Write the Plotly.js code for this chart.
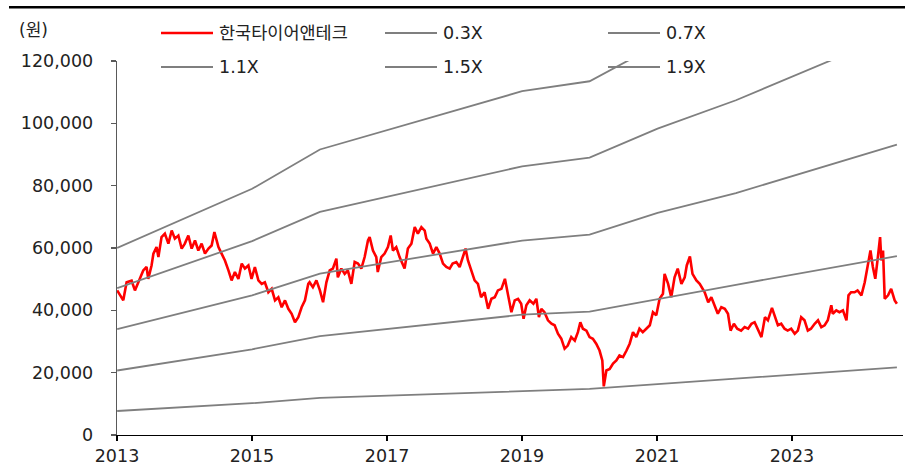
<!DOCTYPE html>
<html>
<head>
<meta charset="utf-8">
<script src="https://cdn.plot.ly/plotly-3.0.1.min.js"></script>
<style>html,body{margin:0;padding:0;background:#fff;}#chart{width:913px;height:470px;}</style>
</head>
<body>
<div id="chart"></div>
<script>
// ---- DATA ----
const seriesNames = ["한국타이어앤테크", "0.3X", "0.7X", "1.1X", "1.5X", "1.9X"];

const priceDates = [
"2013-01-02","2013-01-17","2013-02-04","2013-02-22","2013-03-21","2013-04-08","2013-04-26","2013-05-23","2013-06-10","2013-06-19",
"2013-07-07","2013-07-17","2013-08-03","2013-08-13","2013-08-30","2013-09-17","2013-10-06","2013-10-24","2013-11-10","2013-11-29",
"2013-12-17","2014-01-03","2014-01-22","2014-02-09","2014-02-27","2014-03-17","2014-04-04","2014-04-22","2014-05-11","2014-05-28",
"2014-06-12","2014-07-04","2014-07-21","2014-08-08","2014-08-27","2014-09-13","2014-10-01","2014-10-20","2014-11-07","2014-11-24",
"2014-12-13","2014-12-30","2015-01-17","2015-02-05","2015-02-23","2015-03-12","2015-03-31","2015-04-18","2015-05-06","2015-05-24",
"2015-06-11","2015-06-29","2015-07-17","2015-08-04","2015-08-22","2015-09-09","2015-09-27","2015-10-15","2015-11-02","2015-11-09",
"2015-11-27","2015-12-16","2016-01-04","2016-01-21","2016-02-08","2016-02-26","2016-03-14","2016-04-02","2016-04-10","2016-04-29",
"2016-05-17","2016-06-03","2016-06-22","2016-07-10","2016-07-28","2016-08-15","2016-09-02","2016-09-20","2016-09-29","2016-10-17",
"2016-11-04","2016-11-12","2016-12-01","2016-12-19","2017-01-06","2017-01-21","2017-02-02","2017-02-20","2017-03-10","2017-04-06",
"2017-04-24","2017-05-13","2017-05-31","2017-06-17","2017-07-06","2017-07-24","2017-08-02","2017-08-20","2017-09-07","2017-09-25",
"2017-10-13","2017-10-31","2017-11-18","2017-12-06","2017-12-22","2018-01-11","2018-01-29","2018-02-16","2018-03-02","2018-03-15",
"2018-04-02","2018-04-20","2018-05-08","2018-05-25","2018-06-13","2018-07-02","2018-07-20","2018-08-07","2018-08-24","2018-09-12",
"2018-10-01","2018-10-18","2018-11-05","2018-11-23","2018-12-11","2018-12-28","2019-01-10","2019-01-25","2019-02-12","2019-03-04",
"2019-03-20","2019-04-03","2019-04-16","2019-05-03","2019-05-22","2019-06-10","2019-06-27","2019-07-15","2019-08-02","2019-08-20",
"2019-09-06","2019-09-25","2019-10-14","2019-10-31","2019-11-13","2019-11-27","2019-12-16","2020-01-02","2020-01-20","2020-02-07",
"2020-02-25","2020-03-11","2020-03-19","2020-04-02","2020-04-20","2020-05-08","2020-05-26","2020-06-12","2020-07-01","2020-07-20",
"2020-08-06","2020-08-24","2020-09-11","2020-09-28","2020-10-16","2020-11-04","2020-11-23","2020-12-10","2020-12-28","2021-01-15",
"2021-02-02","2021-02-11","2021-03-02","2021-03-19","2021-04-06","2021-04-23","2021-05-13","2021-05-31","2021-06-11","2021-06-28",
"2021-07-12","2021-08-02","2021-08-20","2021-09-16","2021-10-05","2021-10-22","2021-11-09","2021-11-26","2021-12-15","2022-01-03",
"2022-01-20","2022-02-03","2022-02-21","2022-03-11","2022-04-01","2022-04-20","2022-05-09","2022-05-27","2022-06-13","2022-07-01",
"2022-07-20","2022-08-08","2022-08-24","2022-09-15","2022-09-30","2022-10-17","2022-11-04","2022-11-22","2022-12-09","2022-12-28",
"2023-01-16","2023-02-02","2023-02-20","2023-03-10","2023-03-28","2023-04-14","2023-05-04","2023-05-22","2023-06-09","2023-06-27",
"2023-07-14","2023-08-02","2023-08-10","2023-08-29","2023-09-15","2023-10-04","2023-10-23","2023-11-03","2023-11-17","2023-12-06",
"2023-12-22","2024-01-12","2024-01-30","2024-02-16","2024-03-01","2024-03-14","2024-03-27","2024-04-10","2024-04-22","2024-04-29",
"2024-05-08","2024-05-17","2024-06-04","2024-06-21","2024-07-10","2024-07-22"
];
const priceValues = [
46400,44800,43200,49000,49500,46400,49000,52800,53900,50100,
54400,58200,60300,57100,63500,64600,61400,65600,63000,64000,
59800,61400,64000,59800,62400,59200,61400,58200,59800,60800,
65100,60300,58200,56000,52800,49600,52300,50100,55000,53400,
54400,50100,53900,49600,48500,49000,45800,46900,43200,44200,
41000,43200,40500,38900,36200,37800,41000,43200,48500,49000,
47400,49600,46400,42600,49000,52800,53400,56600,50600,53400,
51700,52800,48500,55500,55000,53400,57100,62400,63500,59200,
57100,52300,57100,58200,60300,64000,59200,60300,57100,53400,
59800,61400,66700,64600,66700,65600,63000,61400,58200,60300,
58200,55000,53900,53400,55000,55500,53900,57100,59800,56000,
52800,49600,48500,44200,45800,40500,43700,44200,46400,46900,
50100,45300,39400,43200,43700,42100,37300,41600,43200,42100,
43700,37800,40500,39400,36800,35700,35200,32500,30900,27700,
28700,31400,30300,33000,36200,34100,33500,31400,30900,29300,
27100,23900,15600,20700,21200,22900,23900,25500,25000,27100,
29300,33000,31400,34100,33000,34100,35200,39400,38400,43700,
45300,51700,48500,44200,50600,53400,48500,50600,54400,57300,
51700,49600,48500,45800,42600,44200,41600,38900,41000,40500,
38900,33500,35700,34100,33500,34600,34100,35700,36200,34100,
31400,37800,36800,40800,37800,35200,35700,34100,33500,34100,
32500,33500,37800,36800,33500,34100,35700,36800,34600,35200,
36800,41600,38900,40000,39400,40000,36800,44800,45800,45800,
46400,44800,49000,55000,59200,53900,50100,57100,63500,56000,
59200,43700,44800,46900,43200,42100
];

const bandDates = ["2013-01-02","2015-01-02","2016-01-04","2019-01-02","2020-01-02","2021-01-04","2022-03-04","2024-07-22"];
const band03 = [7700, 10200, 11900, 14100, 14800, 16300, 18100, 21700];
const band07 = [20700, 27500, 31700, 38600, 39600, 43700, 48200, 57400];
const band11 = [34000, 44800, 51800, 62400, 64300, 71300, 77600, 93200];
const band15 = [47100, 62200, 71600, 86200, 89000, 98300, 107400, 129100];
const band19 = [60000, 79000, 91600, 110300, 113500, 125200, 137000, 164500];

const yTickVals = [0, 20000, 40000, 60000, 80000, 100000, 120000];
const xTickVals = ["2013-01-01","2015-01-01","2017-01-01","2019-01-01","2021-01-01","2023-01-01"];
const xTickText = ["2013","2015","2017","2019","2021","2023"];
const unitLabel = "(원)";

// ---- STYLE / LAYOUT ----
const FONT = "DejaVu Sans, Noto Sans CJK KR, sans-serif";
const TXT = "#222";
const RED = "#ff0000";
const GREY = "#7f7f7f";
const M = {l: 117, r: 10, t: 61, b: 35};
const PW = 913 - M.l - M.r, PH = 470 - M.t - M.b;
const fx = px => (px - M.l) / PW;
const fy = py => (M.t + PH - py) / PH;

const bandSets = [band03, band07, band11, band15, band19];
const traces = [{
  x: priceDates, y: priceValues, name: seriesNames[0], type: "scatter", mode: "lines",
  line: {color: RED, width: 2.6}, showlegend: false, hoverinfo: "x+y"
}];
bandSets.forEach((b, i) => traces.push({
  x: bandDates, y: b, name: seriesNames[i + 1], type: "scatter", mode: "lines",
  line: {color: GREY, width: 1.8}, showlegend: false
}));

// manual legend (line samples + labels), 3 columns x 2 rows
const legCols = [161, 385, 608];
const legRows = [33, 67];
const shapes = [{
  type: "line", xref: "paper", yref: "paper",
  x0: fx(9), x1: fx(905), y0: fy(7.2), y1: fy(7.2),
  line: {color: "#000", width: 2.6}
}];
const annotations = [{
  text: unitLabel, xref: "paper", yref: "paper", x: fx(17), y: fy(30),
  xanchor: "left", yanchor: "middle", showarrow: false,
  font: {family: FONT, size: 17, color: TXT}
}];
seriesNames.forEach((nm, i) => {
  const c = legCols[i % 3], r = legRows[Math.floor(i / 3)];
  shapes.push({
    type: "line", xref: "paper", yref: "paper",
    x0: fx(c), x1: fx(c + 52), y0: fy(r), y1: fy(r),
    line: {color: i === 0 ? RED : GREY, width: i === 0 ? 2.6 : 1.8}
  });
  annotations.push({
    text: nm, xref: "paper", yref: "paper", x: fx(c + 56), y: fy(r),
    xanchor: "left", yanchor: "middle", showarrow: false,
    font: {family: FONT, size: 17.5, color: TXT}
  });
});

const layout = {
  width: 913, height: 470, margin: M,
  paper_bgcolor: "#fff", plot_bgcolor: "#fff",
  font: {family: FONT, size: 17.5, color: TXT},
  showlegend: false,
  xaxis: {
    type: "date", range: ["2013-01-01", "2024-08-24"],
    tickmode: "array", tickvals: xTickVals, ticktext: xTickText,
    ticks: "outside", ticklen: 5, tickcolor: "#000", tickwidth: 1.2,
    showline: true, linecolor: "#000", linewidth: 1.3,
    showgrid: false, zeroline: false,
    tickfont: {family: FONT, size: 17.5, color: TXT}
  },
  yaxis: {
    range: [0, 120000], tickmode: "array", tickvals: yTickVals,
    tickformat: ",", ticks: "outside", ticklen: 5, tickcolor: "#595959", tickwidth: 1.2,
    showline: true, linecolor: "#595959", linewidth: 1.3,
    showgrid: false, zeroline: false, ticklabelstandoff: 14,
    tickfont: {family: FONT, size: 17.5, color: TXT}
  },
  shapes: shapes,
  annotations: annotations
};

Plotly.newPlot("chart", traces, layout, {displayModeBar: false, staticPlot: true});
</script>
</body>
</html>
